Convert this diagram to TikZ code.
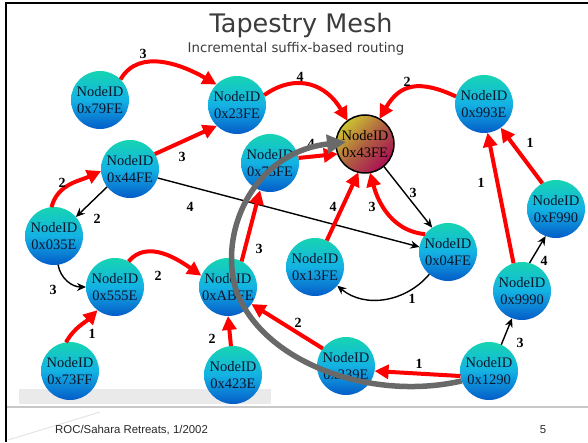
\documentclass[tikz,border=0pt]{standalone}
\usepackage{fontspec}
\setmainfont{Liberation Serif}
\newfontfamily\titlefont{DejaVu Sans}
\newfontfamily\footfont{Liberation Sans}
\usetikzlibrary{arrows.meta}
\definecolor{nodetop}{RGB}{22,212,178}
\definecolor{nodemid}{RGB}{20,178,228}
\definecolor{nodebot}{RGB}{4,92,200}
\definecolor{hubtop}{RGB}{205,195,50}
\definecolor{hubmid}{RGB}{175,95,65}
\definecolor{hubbot}{RGB}{170,15,85}
\definecolor{nodetext}{RGB}{12,22,45}
\definecolor{arrred}{RGB}{255,0,0}
\definecolor{routegray}{RGB}{105,105,105}
\definecolor{titlegray}{RGB}{60,60,60}
\definecolor{footgray}{RGB}{40,40,40}
\definecolor{bargray}{RGB}{234,234,234}
\definecolor{linegray}{RGB}{200,200,200}
\definecolor{faintgray}{RGB}{228,228,228}
\begin{document}
\begin{tikzpicture}[x=1pt,y=1pt,
  ndbase/.style={circle, minimum size=58pt, inner sep=0pt, outer sep=0pt, align=center,
    font=\fontsize{14.5}{16.5}\selectfont},
  nd/.style={ndbase, top color=nodetop, bottom color=nodebot, middle color=nodemid, text=nodetext},
  hub/.style={ndbase, draw=black, line width=1.5pt, top color=hubtop, bottom color=hubbot,
    middle color=hubmid, shading angle=45, text=black},
  redarrow/.style={draw=arrred, line width=4pt, -{Triangle[length=14pt,width=14pt]}},
  blackarrow/.style={draw=black, line width=1.4pt, -{Stealth[length=9pt,width=8pt]}},
  grayarrow/.style={draw=routegray, line width=5.5pt, -{Triangle[length=19pt,width=18pt]}},
  lbl/.style={font=\fontsize{14}{14}\selectfont\bfseries, inner sep=0pt}
]
\useasboundingbox (0,0) rectangle (588,442);
% slide decorations
\fill[bargray] (19,38) rectangle (271,53);
\draw[linegray, line width=2pt] (6,35) -- (588,35);
\draw[faintgray, line width=1pt] (8,2) -- (100,30);
\draw[black, line width=2.5pt] (5,439) -- (588,439);
\draw[black, line width=2pt] (6,440) -- (6,0);
% titles
\node[anchor=base, font=\titlefont\fontsize{25.5}{26}\selectfont, text=titlegray, inner sep=0pt] (title) at (301,409) {Tapestry Mesh};
\node[anchor=base, font=\titlefont\fontsize{13.3}{14}\selectfont, text=titlegray, inner sep=0pt] (subtitle) at (296,389) {Incremental suffix-based routing};
\node[anchor=base west, font=\footfont\fontsize{11.4}{12}\selectfont, text=footgray, inner sep=0pt] (footer) at (55,8.5) {ROC/Sahara Retreats, 1/2002};
\node[anchor=base, font=\footfont\fontsize{11.4}{12}\selectfont, text=footgray, inner sep=0pt] (pagenum) at (543,8.5) {5};
% nodes
\node[nd] (n79FE) at (100,342) {NodeID\\0x79FE};
\node[nd] (n23FE) at (237,337) {NodeID\\0x23FE};
\node[nd] (n44FE) at (130,273) {NodeID\\0x44FE};
\node[nd] (n035E) at (54,206) {NodeID\\0x035E};
\node[nd] (n555E) at (115,155) {NodeID\\0x555E};
\node[nd] (n73FF) at (70,71) {NodeID\\0x73FF};
\node[nd] (nABFE) at (228,155) {NodeID\\0xABFE};
\node[nd] (n423E) at (233,67) {NodeID\\0x423E};
\node[nd] (n75FE) at (270,279) {NodeID\\0x75FE};
\node[hub] (n43FE) at (365,298) {NodeID\\0x43FE};
\node[nd] (n13FE) at (315,175) {NodeID\\0x13FE};
\node[nd] (n04FE) at (448,190) {NodeID\\0x04FE};
\node[nd] (n239E) at (346,76) {NodeID\\0x239E};
\node[nd] (n1290) at (489,71) {NodeID\\0x1290};
\node[nd] (n9990) at (522,151) {NodeID\\0x9990};
\node[nd] (nF990) at (556,233) {NodeID\\0xF990};
\node[nd] (n993E) at (484,338) {NodeID\\0x993E};
% edges
\draw[redarrow] (n79FE.45) to[out=60,in=150] (n23FE.135);
\draw[redarrow] (n23FE.20) to[out=35,in=120,looseness=1.2] (n43FE.127);
\draw[redarrow] (n993E.165) to[out=155,in=60,looseness=1.3] (n43FE.60);
\draw[redarrow] (n44FE.31) -- (n23FE.226);
\draw[redarrow] (n035E.95) to[out=75,in=205] (n44FE.184);
\draw[blackarrow] (n44FE.218) -- (n035E.41);
\draw[blackarrow] (n44FE.-18) -- (n04FE.170);
\draw[blackarrow] (n035E.-82) to[out=-80,in=180] (n555E.180);
\draw[redarrow] (n555E.62) to[out=50,in=145] (nABFE.157);
\draw[redarrow] (n73FF.98) to[out=60,in=225] (n555E.233);
\draw[redarrow] (n423E.94) -- (nABFE.-90);
\draw[redarrow] (nABFE.62) -- (n75FE.-110);
\draw[redarrow] (n75FE.10) -- (n43FE.200);
\draw[redarrow] (n13FE.66) -- (n43FE.-103);
\draw[redarrow] (n04FE.142) to[out=175,in=-75] (n43FE.-80);
\draw[blackarrow] (n43FE.-50) -- (n04FE.123);
\draw[blackarrow] (n04FE.-130) to[out=-130,in=-40] (n13FE.-40);
\draw[redarrow] (n239E.143) -- (nABFE.-36);
\draw[redarrow] (n1290.190) -- (n239E.-10);
\draw[blackarrow] (n1290.65) -- (n9990.-110);
\draw[redarrow] (n9990.107) -- (n993E.-83);
\draw[redarrow] (nF990.118) -- (n993E.-55);
\draw[blackarrow] (n9990.75) -- (nF990.-111);
% labels
\node[lbl] (l1) at (143,388) {3};
\node[lbl] (l2) at (300,365) {4};
\node[lbl] (l3) at (407,360) {2};
\node[lbl] (l4) at (182,285) {3};
\node[lbl] (l5) at (62,259) {2};
\node[lbl] (l6) at (97,223) {2};
\node[lbl] (l7) at (190,235) {4};
\node[lbl] (l8) at (53,152) {3};
\node[lbl] (l9) at (158,166) {2};
\node[lbl] (l10) at (259,193) {3};
\node[lbl] (l11) at (92,108) {1};
\node[lbl] (l12) at (212,103) {2};
\node[lbl] (l13) at (298,119) {2};
\node[lbl] (l14) at (311,298) {4};
\node[lbl] (l15) at (530,299) {1};
\node[lbl] (l16) at (481,259) {1};
\node[lbl] (l17) at (333,235) {4};
\node[lbl] (l18) at (372,235) {3};
\node[lbl] (l19) at (413,249) {3};
\node[lbl] (l20) at (412,143) {1};
\node[lbl] (l21) at (419,78) {1};
\node[lbl] (l22) at (520,99) {3};
\node[lbl] (l23) at (544,181) {4};
% route
\coordinate (gmid) at (236,152);
\coordinate (gend) at (346,300);
\draw[grayarrow] (n1290.200) .. controls (370,40) and (262,80) .. (gmid)
  .. controls (218,212) and (255,290) .. (gend);
\end{tikzpicture}
\end{document}
